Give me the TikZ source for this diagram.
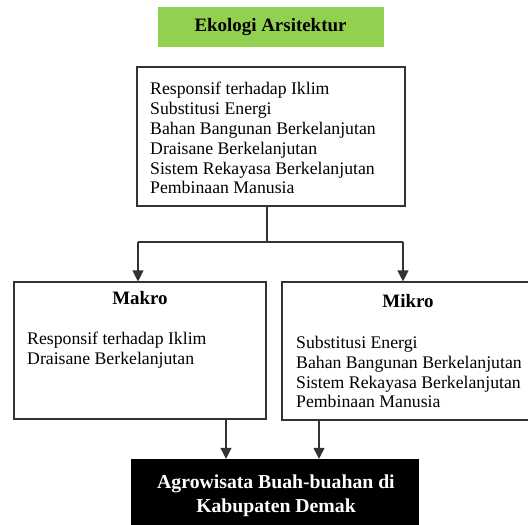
\documentclass[tikz,border=0pt]{standalone}
\usepackage{fontspec}
\setmainfont{Liberation Serif}
\usetikzlibrary{arrows.meta,calc}
\definecolor{ogreen}{HTML}{92D050}
\definecolor{lnc}{HTML}{333333}
\tikzset{
  box/.style={draw=lnc, line width=1.1bp, inner sep=0pt},
  body/.style={font=\fontsize{17.8}{20}\selectfont, align=left, inner sep=0pt},
  head/.style={font=\fontsize{19}{22}\selectfont\bfseries, inner sep=0pt},
  arr/.style={draw=lnc, line width=1.1bp, -{Triangle[width=11bp,length=11bp]}},
  ln/.style={draw=lnc, line width=1.1bp}
}
\begin{document}
\begin{tikzpicture}[x=1bp,y=-1bp]
\clip (0,0) rectangle (528,525);
\fill[white] (0,0) rectangle (528,525);
% title
\node[fill=ogreen, minimum width=226bp, minimum height=40bp, inner sep=0pt, head] (title) at (270.5,27) {Ekologi Arsitektur};
% main box
\node[box, minimum width=268bp, minimum height=139bp] (main) at (271,136.5) {};
\node[body, anchor=west] (maintxt) at (150,138) {Responsif terhadap Iklim\\Substitusi Energi\\Bahan Bangunan Berkelanjutan\\Draisane Berkelanjutan\\Sistem Rekayasa Berkelanjutan\\Pembinaan Manusia};
% makro
\node[box, minimum width=252bp, minimum height=137bp] (makro) at (140,350.5) {};
\node[head] (makrot) at (140,298) {Makro};
\node[body, anchor=west] (makrotxt) at (27,350) {Responsif terhadap Iklim\\Draisane Berkelanjutan};
% mikro
\node[box, minimum width=250bp, minimum height=138bp] (mikro) at (407,351) {};
\node[head] (mikrot) at (408,301) {Mikro};
\node[body, anchor=west] (mikrotxt) at (296,372) {Substitusi Energi\\Bahan Bangunan Berkelanjutan\\Sistem Rekayasa Berkelanjutan\\Pembinaan Manusia};
% agro
\node[fill=black, minimum width=288bp, minimum height=72bp, inner sep=0pt] (agro) at (275,495) {};
\node[font=\fontsize{19.8}{24}\selectfont\bfseries, text=white, align=center, inner sep=0pt] (agrotxt) at (276,496) {Agrowisata Buah-buahan di\\Kabupaten Demak};
% connectors
\coordinate (j) at (267,242);
\coordinate (jl) at (138,242);
\coordinate (jr) at (403,242);
\coordinate (a1) at (226,0);
\coordinate (a2) at (319,0);
\draw[ln] (main.south -| j) -- (j);
\draw[ln] (jl) -- (jr);
\draw[arr] (jl) -- (jl |- makro.north);
\draw[arr] (jr) -- (jr |- mikro.north);
\draw[arr] (makro.south -| a1) -- (agro.north -| a1);
\draw[arr] (mikro.south -| a2) -- (agro.north -| a2);
\end{tikzpicture}
\end{document}
